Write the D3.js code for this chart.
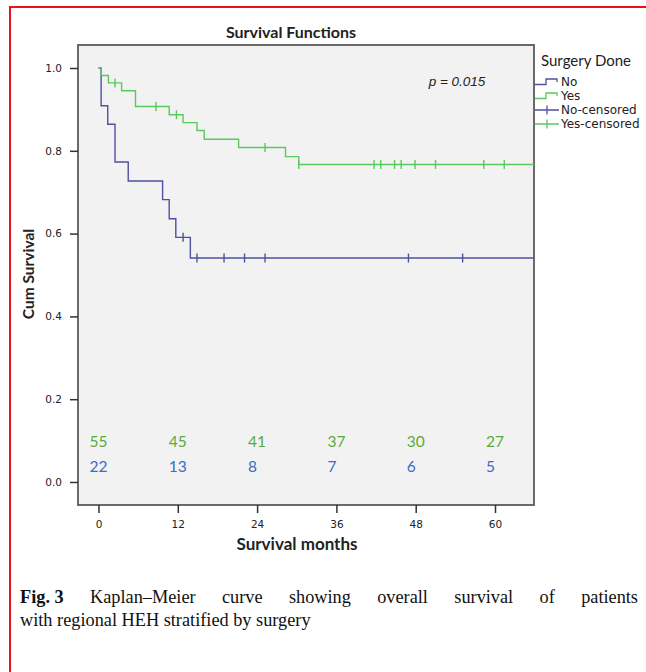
<!DOCTYPE html>
<html><head><meta charset="utf-8">
<script src="https://cdn.jsdelivr.net/npm/d3@7"></script>
<style>
html,body{margin:0;padding:0;background:#fff;}
svg{display:block;}
</style></head>
<body>
<svg id="chart" width="646" height="672"></svg>
<script>
// ---- data ----
const noTimes = [0, 0.4, 1.4, 2.5, 4.5, 9.7, 10.7, 11.7, 13.9];
const noSurv  = [1.0, 0.909, 0.864, 0.773, 0.727, 0.682, 0.636, 0.591, 0.541];
const noCensorTimes = [12.8, 14.9, 19.0, 22.1, 25.2, 46.9, 55.1];

const yesTimes = [0, 0.4, 1.5, 3.5, 5.6, 10.7, 12.8, 14.9, 16.0, 21.2, 28.3, 30.3];
const yesSurv  = [1.0, 0.982, 0.964, 0.945, 0.907, 0.887, 0.868, 0.849, 0.828, 0.808, 0.786, 0.767];
const yesCensorTimes = [2.5, 8.7, 11.8, 25.2, 30.3, 41.7, 42.7, 44.8, 45.8, 47.9, 51.0, 58.3, 61.4];

const xTicks = [0, 12, 24, 36, 48, 60];
const yTicks = [0.0, 0.2, 0.4, 0.6, 0.8, 1.0];
const riskTimes = [0, 12, 24, 36, 48, 60];
const yesRisk = [55, 45, 41, 37, 30, 27];
const noRisk  = [22, 13, 8, 7, 6, 5];

const legendLabels = ["No", "Yes", "No-censored", "Yes-censored"];
const titleText = "Survival Functions";
const pText = "p = 0.015";
const captionBold = "Fig. 3";
const captionLine1 = "Kaplan–Meier curve showing overall survival of patients";
const captionLine2 = "with regional HEH stratified by surgery";

// ---- styles ----
const blueLine = "#5050a2", greenLine = "#5cc85e";
const blueNum = "#3a6cc8", greenNum = "#5aaa3e";
const sans = "Lato, 'Open Sans', sans-serif";

const svg = d3.select("#chart");

// red frame
svg.append("line").attr("x1",10).attr("y1",7).attr("x2",646).attr("y2",7).attr("stroke","#e8141c").attr("stroke-width",2);
svg.append("line").attr("x1",10).attr("y1",6).attr("x2",10).attr("y2",672).attr("stroke","#e8141c").attr("stroke-width",2);

const L = 78, R = 534, T = 45, B = 505;
const x = d3.scaleLinear().domain([-3.1, 65.9]).range([L, R]);
const y = d3.scaleLinear().domain([-0.0556, 1.0556]).range([B, T]);

svg.append("rect").attr("x",L).attr("y",T).attr("width",R-L).attr("height",B-T)
  .attr("fill","#f2f2f2").attr("stroke","#5a5a5a").attr("stroke-width",1.8);

svg.append("clipPath").attr("id","clip").append("rect").attr("x",L).attr("y",T).attr("width",R-L).attr("height",B-T);

// axes
const yAxis = svg.append("g").attr("transform",`translate(${L},0)`)
  .call(d3.axisLeft(y).tickValues(yTicks).tickFormat(d3.format(".1f")).tickSize(8).tickPadding(8));
const xAxis = svg.append("g").attr("transform",`translate(0,${B})`)
  .call(d3.axisBottom(x).tickValues(xTicks).tickSize(8).tickPadding(8));
[yAxis, xAxis].forEach(g => {
  g.select(".domain").remove();
  g.selectAll(".tick line").attr("stroke","#333").attr("stroke-width",1.5);
  g.selectAll(".tick text").attr("fill","#222").style("font-family","'DejaVu Sans', sans-serif").style("font-size","10.5px");
});

// curves
const plotG = svg.append("g").attr("clip-path","url(#clip)");
const stepLine = d3.line().x(d=>x(d[0])).y(d=>y(d[1])).curve(d3.curveStepAfter);
function survAt(times, surv, t){ let s = surv[0]; for(let i=0;i<times.length;i++){ if(times[i] <= t) s = surv[i]; } return s; }
function drawGroup(times, surv, censors, color){
  const pts = times.map((t,i)=>[t, surv[i]]);
  pts.push([x.domain()[1], surv[surv.length-1]]);
  plotG.append("path").attr("d", stepLine(pts)).attr("fill","none").attr("stroke",color).attr("stroke-width",1.4);
  plotG.selectAll(null).data(censors).enter().append("line")
    .attr("x1",d=>x(d)).attr("x2",d=>x(d))
    .attr("y1",d=>y(survAt(times,surv,d))-4.5).attr("y2",d=>y(survAt(times,surv,d))+4.5)
    .attr("stroke",color).attr("stroke-width",1.4);
}
drawGroup(noTimes, noSurv, noCensorTimes, blueLine);
drawGroup(yesTimes, yesSurv, yesCensorTimes, greenLine);

// numbers at risk
svg.selectAll(null).data(yesRisk).enter().append("text")
  .attr("x",(d,i)=>x(riskTimes[i])-9).attr("y",447).text(d=>d)
  .attr("fill",greenNum).style("font-family",sans).style("font-size","15.5px");
svg.selectAll(null).data(noRisk).enter().append("text")
  .attr("x",(d,i)=>x(riskTimes[i])-9).attr("y",472).text(d=>d)
  .attr("fill",blueNum).style("font-family",sans).style("font-size","15.5px");

// p value
svg.append("text").attr("x",457).attr("y",86).attr("text-anchor","middle").text(pText)
  .style("font-family","'Liberation Sans', Arial, sans-serif").style("font-style","italic").style("font-size","13.5px").attr("fill","#222");

// titles
svg.append("text").attr("x",291).attr("y",38).attr("text-anchor","middle").text(titleText)
  .style("font-family",sans).style("font-weight","bold").style("font-size","16px").attr("fill","#222");
svg.append("text").attr("x",297).attr("y",550).attr("text-anchor","middle").text("Survival months")
  .style("font-family",sans).style("font-weight","bold").style("font-size","17px").attr("fill","#222");
svg.append("text").attr("transform","translate(34,274) rotate(-90)").attr("text-anchor","middle").text("Cum Survival")
  .style("font-family",sans).style("font-weight","bold").style("font-size","15.5px").attr("fill","#222");

// legend
svg.append("text").attr("x",541).attr("y",66).text("Surgery Done")
  .style("font-family",sans).style("font-size","15px").attr("fill","#222");
const legColors = [blueLine, greenLine, blueLine, greenLine];
const legY = [82, 96, 110, 124];
legendLabels.forEach((lab,i)=>{
  const cy = legY[i], c = legColors[i];
  if(i < 2){
    svg.append("path").attr("d",`M535,${cy+2.5}H546V${cy-3}H557V${cy}`).attr("fill","none").attr("stroke",c).attr("stroke-width",1.3);
  } else {
    svg.append("path").attr("d",`M535,${cy}H559M547,${cy-4.5}V${cy+4.5}`).attr("fill","none").attr("stroke",c).attr("stroke-width",1.3);
  }
  svg.append("text").attr("x",561).attr("y",cy+4).text(lab)
    .style("font-family","'DejaVu Sans', sans-serif").style("font-size","12px").attr("fill","#222");
});

// caption (justified first line)
const serif = "'Liberation Serif', 'Times New Roman', serif";
const line1Words = [{t:captionBold, b:true}].concat(captionLine1.split(" ").map(w=>({t:w,b:false})));
const cap1 = svg.append("g");
const nodes = line1Words.map(w => cap1.append("text").attr("y",603).text(w.t)
  .style("font-family",serif).style("font-size","18.3px").style("font-weight", w.b ? "bold":"normal").attr("fill","#111"));
const widths = nodes.map(n => n.node().getComputedTextLength());
const startX = 20, endX = 638;
const gap = (endX - startX - d3.sum(widths)) / (nodes.length - 1);
let cx = startX;
nodes.forEach((n,i)=>{ n.attr("x",cx); cx += widths[i] + gap; });
svg.append("text").attr("x",20).attr("y",626).text(captionLine2)
  .style("font-family",serif).style("font-size","18.3px").attr("fill","#111");
</script>
</body></html>
